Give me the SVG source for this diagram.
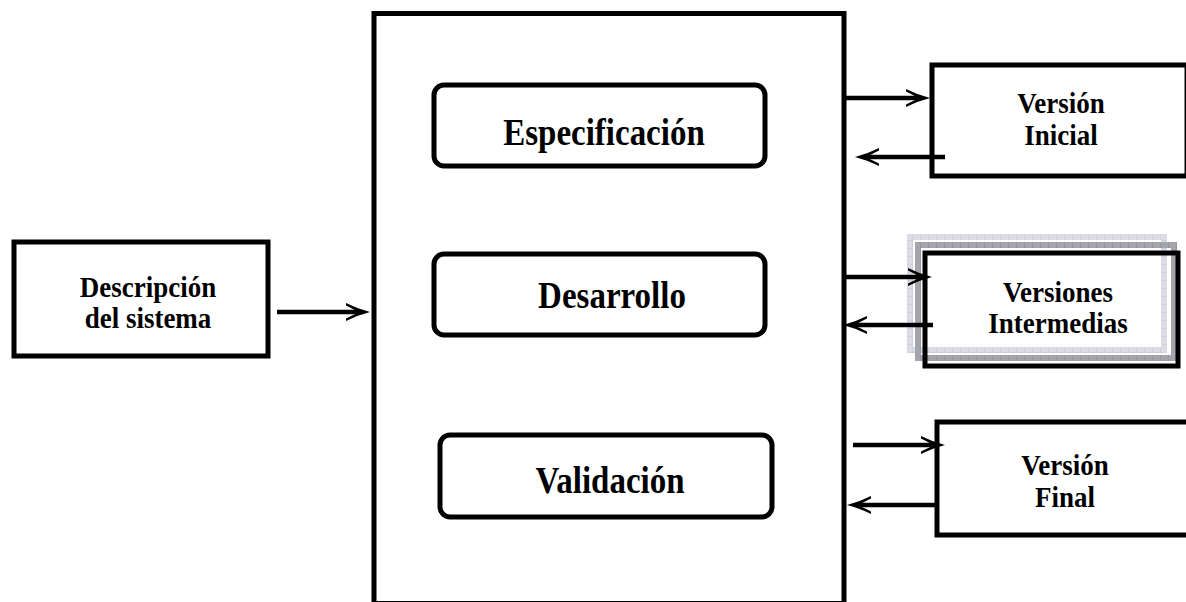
<svg xmlns="http://www.w3.org/2000/svg" width="1186" height="602" viewBox="0 0 1186 602">
<style>
.box{fill:none;stroke:#000;stroke-width:5}
.rbox{fill:#fff;stroke:#000;stroke-width:5}
.big{font-family:"Liberation Serif","Times New Roman",serif;font-weight:bold;font-size:33px;fill:#000;text-anchor:middle}
.sm{font-family:"Liberation Serif","Times New Roman",serif;font-weight:bold;font-size:27px;fill:#000;text-anchor:middle}
.arr{stroke:#000;stroke-width:4.5;fill:none;marker-end:url(#ah)}
</style>
<defs>
<marker id="ah" markerUnits="userSpaceOnUse" orient="auto" refX="0" refY="0" markerWidth="40" markerHeight="30" viewBox="-20 -12 40 24" overflow="visible">
<path d="M10,0 Q-2,-3 -14,-9 L-14,-6.5 Q-4,-1.5 -1,0 Q-4,1.5 -14,6.5 L-14,9 Q-2,3 10,0 Z" fill="#000"/>
</marker>
<pattern id="lt" width="8" height="8" patternUnits="userSpaceOnUse">
<rect width="8" height="8" fill="#dcdce6"/>
<path d="M0,0V8M0,0H8" stroke="#c4c4d0" stroke-width="1"/>
</pattern>
<pattern id="dk" width="8" height="8" patternUnits="userSpaceOnUse">
<rect width="8" height="8" fill="#a4a4ac"/>
<path d="M0,0V8" stroke="#8a8a92" stroke-width="1"/>
</pattern>
</defs>

<g id="proceso">
<rect class="box" x="374" y="13.5" width="470" height="590"/>
</g>

<g id="especificacion">
<rect class="rbox" x="434" y="85" width="331" height="81" rx="10"/>
<text class="big" transform="translate(604,145) scale(1,1.12)">Especificación</text>
</g>

<g id="desarrollo">
<rect class="rbox" x="434" y="254" width="331" height="81" rx="10"/>
<text class="big" transform="translate(612,308) scale(1,1.12)">Desarrollo</text>
</g>

<g id="validacion">
<rect class="rbox" x="440" y="435" width="332" height="82" rx="10"/>
<text class="big" transform="translate(610,493) scale(1,1.12)">Validación</text>
</g>

<g id="descripcion">
<rect class="box" x="14" y="242" width="254" height="114"/>
<text class="sm" transform="translate(148,297) scale(1,1.12)">Descripción</text>
<text class="sm" transform="translate(148,328) scale(1,1.12)">del sistema</text>
</g>

<g id="version-inicial">
<rect class="box" x="932" y="65" width="255" height="111"/>
<text class="sm" transform="translate(1061,113) scale(1,1.12)">Versión</text>
<text class="sm" transform="translate(1061,145) scale(1,1.12)">Inicial</text>
</g>

<g id="versiones-intermedias">
<rect x="910" y="237" width="254" height="113" fill="none" stroke="url(#lt)" stroke-width="6"/>
<rect x="918" y="245" width="256" height="113" fill="none" stroke="url(#dk)" stroke-width="6"/>
<rect class="box" x="925" y="253" width="253" height="113"/>
<text class="sm" transform="translate(1058,302) scale(1,1.12)">Versiones</text>
<text class="sm" transform="translate(1058,333) scale(1,1.12)">Intermedias</text>
</g>

<g id="version-final">
<rect class="box" x="937" y="422" width="252" height="113"/>
<text class="sm" transform="translate(1065,475) scale(1,1.12)">Versión</text>
<text class="sm" transform="translate(1065,507) scale(1,1.12)">Final</text>
</g>

<g id="connectors">
<line class="arr" x1="277" y1="312" x2="360" y2="312"/>
<line class="arr" x1="842" y1="98" x2="920" y2="98"/>
<line class="arr" x1="945" y1="157" x2="865" y2="157"/>
<line class="arr" x1="842" y1="277" x2="922" y2="277"/>
<line class="arr" x1="933" y1="325" x2="853" y2="325"/>
<line class="arr" x1="853" y1="445" x2="935" y2="445"/>
<line class="arr" x1="935" y1="505" x2="857" y2="505"/>
</g>
</svg>
